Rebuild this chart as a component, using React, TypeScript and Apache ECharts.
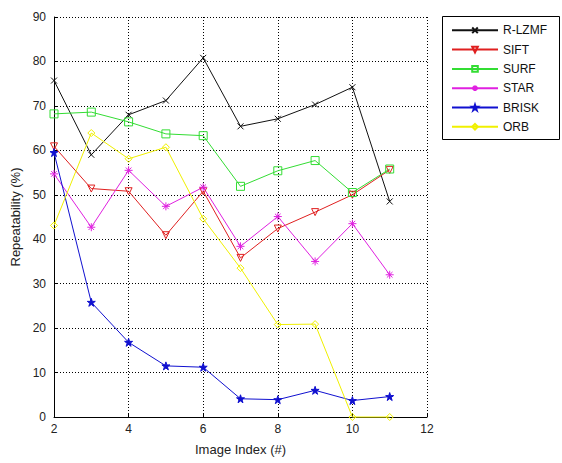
import React, { useEffect, useRef } from "react";
import * as echarts from "echarts";

const imageIndex = [2, 3, 4, 5, 6, 7, 8, 9, 10, 11];
const rlzmf = [75.7, 59.0, 68.0, 71.2, 80.8, 65.4, 67.1, 70.3, 74.2, 48.5];
const sift = [60.9, 51.4, 50.8, 40.9, 50.8, 35.8, 42.4, 46.1, 50.0, 55.6];
const surf = [68.2, 68.6, 66.4, 63.7, 63.3, 51.9, 55.4, 57.7, 50.5, 55.8];
const star = [54.7, 42.7, 55.5, 47.4, 51.7, 38.4, 45.1, 35.0, 43.5, 32.0];
const brisk = [59.5, 25.8, 16.8, 11.5, 11.2, 4.1, 3.9, 6.0, 3.7, 4.6];
const orb = [43.1, 63.9, 58.1, 60.7, 44.6, 33.5, 20.8, 20.9, 0, 0];

const seriesNames = ["R-LZMF", "SIFT", "SURF", "STAR", "BRISK", "ORB"];

const FONT = "'Liberation Sans', Arial, sans-serif";

const pair = (vals: number[]) => imageIndex.map((x, i) => [x, vals[i]]);

export default function App() {
  const ref = useRef<HTMLDivElement>(null);
  useEffect(() => {
    if (!ref.current) return;
    const chart = echarts.init(ref.current, undefined, { renderer: "svg" });
    const mk = (
      name: string,
      vals: number[],
      color: string,
      symbol: string,
      size: number,
      filled: boolean
    ) => ({
      name,
      type: "line",
      data: pair(vals),
      symbol,
      symbolSize: size,
      clip: false,
      lineStyle: { color, width: 1 },
      itemStyle: filled
        ? { color, borderColor: color, borderWidth: 1 }
        : { color: "none", borderColor: color, borderWidth: 1 },
      emphasis: { disabled: true },
    });
    const option = {
      animation: false,
      backgroundColor: "#fff",
      grid: { left: 54, right: 135, top: 17, bottom: 46 },
      xAxis: {
        type: "value",
        min: 2,
        max: 12,
        interval: 2,
        name: "Image Index (#)",
        nameLocation: "middle",
        nameGap: 26,
        nameTextStyle: { fontFamily: FONT, fontSize: 13, color: "#222" },
        axisLine: { show: true, lineStyle: { color: "#000", width: 1 } },
        axisTick: { show: true, inside: true, length: 4, lineStyle: { color: "#000" } },
        axisLabel: { fontFamily: FONT, fontSize: 12, color: "#222", margin: 6 },
        splitLine: { show: true, lineStyle: { color: "#000", type: [1, 2], width: 1 } },
      },
      yAxis: {
        type: "value",
        min: 0,
        max: 90,
        interval: 10,
        name: "Repeatability (%)",
        nameLocation: "middle",
        nameGap: 27,
        nameTextStyle: { fontFamily: FONT, fontSize: 13, color: "#222" },
        axisLine: { show: true, lineStyle: { color: "#000", width: 1 } },
        axisTick: { show: true, inside: true, length: 4, lineStyle: { color: "#000" } },
        axisLabel: { fontFamily: FONT, fontSize: 12, color: "#222", margin: 8 },
        splitLine: { show: true, lineStyle: { color: "#000", type: [1, 2], width: 1 } },
      },
      legend: {
        data: seriesNames,
        orient: "vertical",
        left: 451,
        top: 24.3,
        padding: 0,
        itemWidth: 46,
        itemHeight: 7,
        itemGap: 7.3,
        selectedMode: false,
        textStyle: { fontFamily: FONT, fontSize: 12, color: "#111" },
      },
      graphic: [
        {
          type: "rect",
          shape: { x: 442.5, y: 16.5, width: 117, height: 123 },
          style: { fill: "none", stroke: "#000", lineWidth: 1 },
          z: 10,
        },
      ],
      series: [
        mk(seriesNames[0], rlzmf, "#111111", "path://M0,0L10,10M10,0L0,10", 6, false),
        mk(seriesNames[1], sift, "#e02020", "path://M0,0L10,0L5,9Z", 7, false),
        mk(seriesNames[2], surf, "#33dd33", "rect", 8, false),
        mk(seriesNames[3], star, "#e020e0", "path://M5,0L5,10M0,5L10,5M1.5,1.5L8.5,8.5M8.5,1.5L1.5,8.5", 8, false),
        mk(seriesNames[4], brisk, "#1010d0", "path://M5,0L6.2,3.6L10,3.6L6.9,5.9L8.1,9.5L5,7.3L1.9,9.5L3.1,5.9L0,3.6L3.8,3.6Z", 8, true),
        mk(seriesNames[5], orb, "#f0f000", "diamond", 7, false),
      ],
    };
    chart.setOption(option as any);
    return () => chart.dispose();
  }, []);
  return <div ref={ref} style={{ width: 562, height: 463, position: "absolute", left: 0, top: 0 }} />;
}
